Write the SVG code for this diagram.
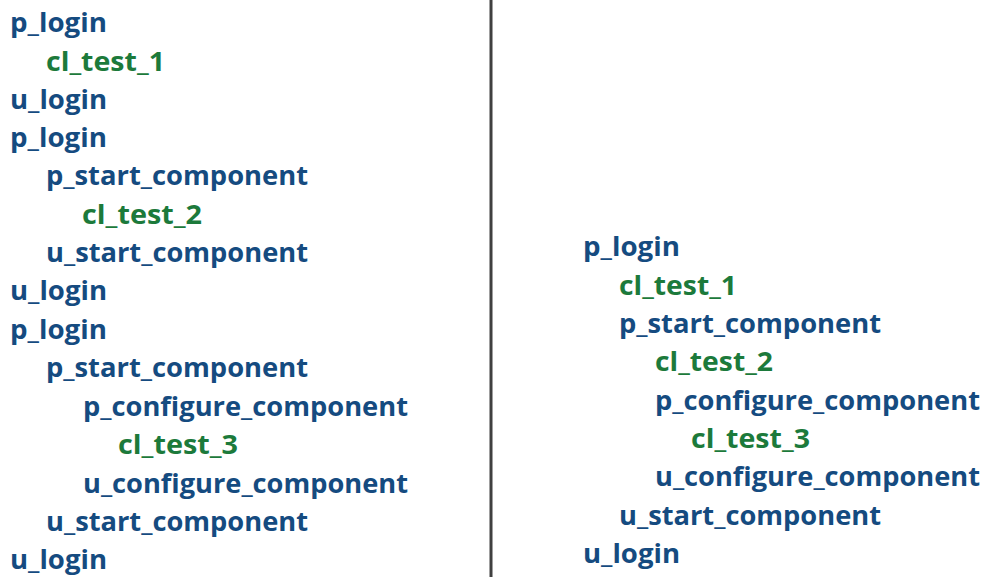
<svg xmlns="http://www.w3.org/2000/svg" width="984" height="577" viewBox="0 0 984 577">
<style>
text{font-family:"Open Sans","Noto Sans","Liberation Sans",sans-serif;font-weight:700;font-size:27px}
.b{fill:#154b80}
.g{fill:#1c7a3b}
.sep{stroke:#404040;stroke-width:3}
</style>
<rect width="984" height="577" fill="#ffffff"/>
<g id="separator"><line class="sep" x1="491" y1="0" x2="491" y2="577"/></g>
<g id="left">
<g id="l1"><text class="b" x="10" y="32" textLength="97" lengthAdjust="spacingAndGlyphs">p_login</text></g>
<g id="l2"><text class="g" x="46" y="70.5" textLength="119" lengthAdjust="spacingAndGlyphs">cl_test_1</text></g>
<g id="l3"><text class="b" x="10" y="108.5" textLength="97" lengthAdjust="spacingAndGlyphs">u_login</text></g>
<g id="l4"><text class="b" x="10" y="147" textLength="97" lengthAdjust="spacingAndGlyphs">p_login</text></g>
<g id="l5"><text class="b" x="46" y="185" textLength="262" lengthAdjust="spacingAndGlyphs">p_start_component</text></g>
<g id="l6"><text class="g" x="82" y="223.5" textLength="120" lengthAdjust="spacingAndGlyphs">cl_test_2</text></g>
<g id="l7"><text class="b" x="46" y="262" textLength="262" lengthAdjust="spacingAndGlyphs">u_start_component</text></g>
<g id="l8"><text class="b" x="10" y="300" textLength="97" lengthAdjust="spacingAndGlyphs">u_login</text></g>
<g id="l9"><text class="b" x="10" y="339" textLength="97" lengthAdjust="spacingAndGlyphs">p_login</text></g>
<g id="l10"><text class="b" x="46" y="377" textLength="262" lengthAdjust="spacingAndGlyphs">p_start_component</text></g>
<g id="l11"><text class="b" x="83" y="416" textLength="325" lengthAdjust="spacingAndGlyphs">p_configure_component</text></g>
<g id="l12"><text class="g" x="118" y="454" textLength="120" lengthAdjust="spacingAndGlyphs">cl_test_3</text></g>
<g id="l13"><text class="b" x="83" y="493" textLength="325" lengthAdjust="spacingAndGlyphs">u_configure_component</text></g>
<g id="l14"><text class="b" x="46" y="531" textLength="262" lengthAdjust="spacingAndGlyphs">u_start_component</text></g>
<g id="l15"><text class="b" x="10" y="569" textLength="97" lengthAdjust="spacingAndGlyphs">u_login</text></g>
</g>
<g id="right">
<g id="r1"><text class="b" x="583" y="256" textLength="97" lengthAdjust="spacingAndGlyphs">p_login</text></g>
<g id="r2"><text class="g" x="619" y="295" textLength="118" lengthAdjust="spacingAndGlyphs">cl_test_1</text></g>
<g id="r3"><text class="b" x="619" y="333" textLength="262" lengthAdjust="spacingAndGlyphs">p_start_component</text></g>
<g id="r4"><text class="g" x="655" y="371" textLength="118" lengthAdjust="spacingAndGlyphs">cl_test_2</text></g>
<g id="r5"><text class="b" x="655" y="410" textLength="325" lengthAdjust="spacingAndGlyphs">p_configure_component</text></g>
<g id="r6"><text class="g" x="691" y="448" textLength="119" lengthAdjust="spacingAndGlyphs">cl_test_3</text></g>
<g id="r7"><text class="b" x="655" y="486" textLength="325" lengthAdjust="spacingAndGlyphs">u_configure_component</text></g>
<g id="r8"><text class="b" x="619" y="525" textLength="262" lengthAdjust="spacingAndGlyphs">u_start_component</text></g>
<g id="r9"><text class="b" x="583" y="563" textLength="97" lengthAdjust="spacingAndGlyphs">u_login</text></g>
</g>
</svg>
